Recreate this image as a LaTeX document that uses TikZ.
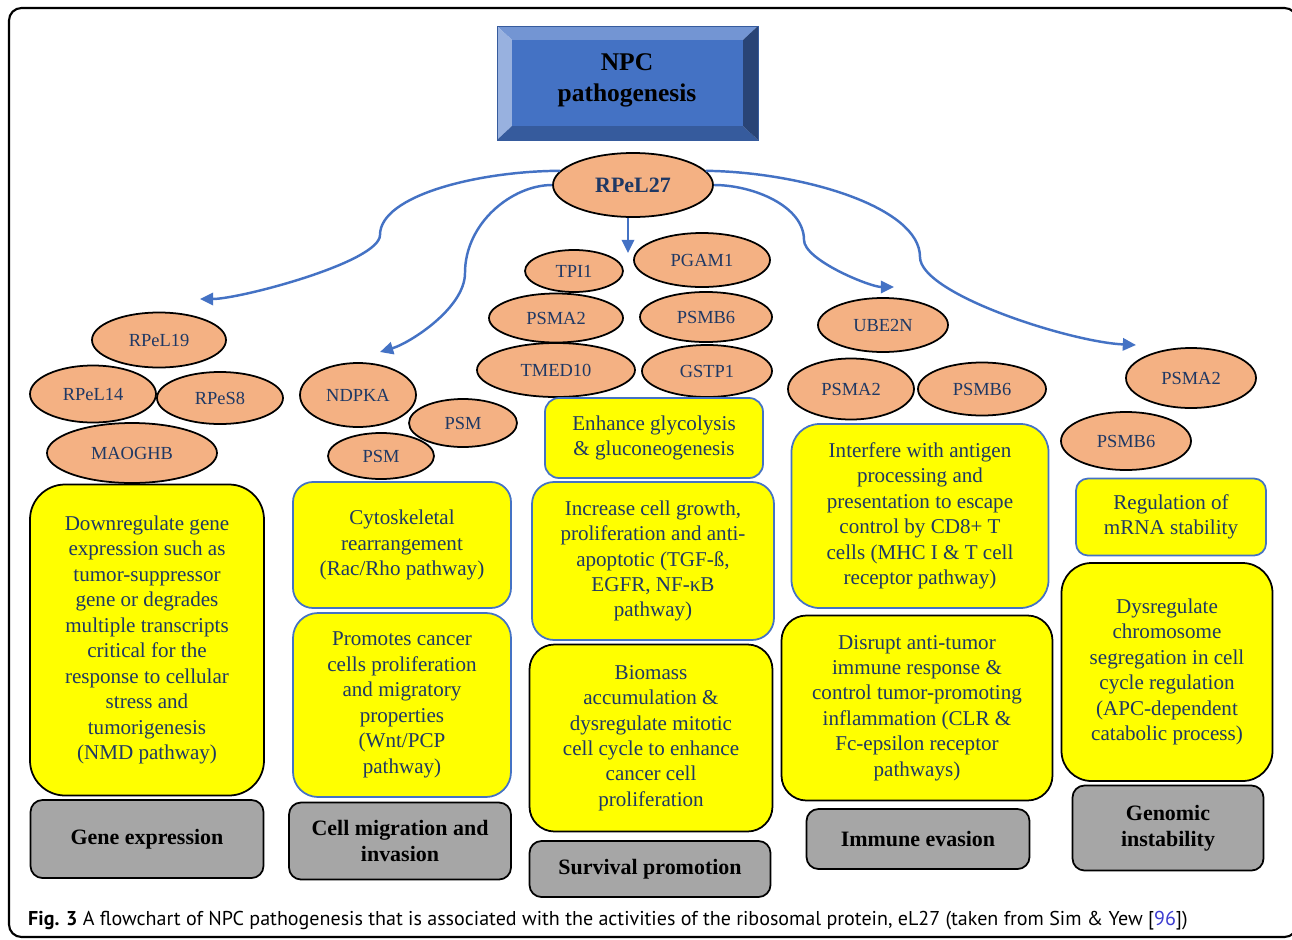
\documentclass[tikz,border=0pt]{standalone}
\usepackage{fontspec}
\setmainfont{Liberation Serif}
\newfontfamily\capfont{PT Sans}
\usetikzlibrary{shapes.geometric,arrows.meta}

\definecolor{salmon}{HTML}{F4B183}
\definecolor{navytext}{HTML}{1F3864}
\definecolor{flowblue}{HTML}{4472C4}
\definecolor{boxgray}{HTML}{A6A6A6}
\definecolor{boxyellow}{HTML}{FFFF00}
\definecolor{citeblue}{HTML}{3C3CD0}

\tikzset{
  dims/.style 2 args={minimum width=#1*0.02cm, minimum height=#2*0.02cm},
  prot/.style={ellipse, draw=black, line width=1pt, fill=salmon, text=navytext,
    inner sep=0pt, font=\fontsize{10.5}{12}\selectfont},
  effect/.style={rectangle, draw=black, line width=1pt, fill=boxyellow, text=navytext,
    rounded corners=#1, inner sep=0pt, align=center, font=\fontsize{12}{14.5}\selectfont},
  effectb/.style={effect=#1, draw=flowblue},
  area/.style={rectangle, draw=black, line width=1pt, fill=boxgray, rounded corners=0.24cm,
    inner sep=0pt, align=center, font=\bfseries\fontsize{12.5}{15}\selectfont},
  flow/.style={draw=flowblue, line width=1.4pt, -{Triangle[length=7.5pt,width=7pt]}}
}

\begin{document}
\begin{tikzpicture}[x=0.02cm, y=-0.02cm]
    \useasboundingbox (0,0) rectangle (1292,940);
    \draw [black, line width=1.2pt, rounded corners=0.25cm] (9,8) rectangle (1297,937);

    % title block
    \fill [flowblue!75!white] (497,26) -- (758,26) -- (743,40) -- (512,40) -- cycle;
    \fill [flowblue!55!white] (497,26) -- (512,40) -- (512,126) -- (497,140) -- cycle;
    \fill [flowblue!80!black] (497,140) -- (512,126) -- (743,126) -- (758,140) -- cycle;
    \fill [flowblue!60!black] (758,26) -- (743,40) -- (743,126) -- (758,140) -- cycle;
    \fill [flowblue] (512,40) rectangle (743,126);
    \draw [flowblue!80!black, line width=0.4pt] (497,26) rectangle (758,140);
    \node [align=center, font=\bfseries\fontsize{14.5}{17.6}\selectfont] (title) at (627,80) {NPC\\pathogenesis};

    \node [prot, dims={160}{64}, font=\bfseries\fontsize{12.5}{14}\selectfont] (rpel27) at (633,185) {RPeL27};

    % gene expression
    \node [prot, dims={134}{55}] (rpel19) at (159,340) {RPeL19};
    \node [prot, dims={126}{57}] (rpel14) at (93,394) {RPeL14};
    \node [prot, dims={126}{52}] (rpes8) at (220,398) {RPeS8};
    \node [prot, dims={170}{60}] (maoghb) at (132,453) {MAOGHB};
    \node [effect=0.7cm, dims={234}{311}] (downreg) at (147,640) {Downregulate gene\\expression such as\\tumor-suppressor\\gene or degrades\\multiple transcripts\\critical for the\\response to cellular\\stress and\\tumorigenesis\\(NMD pathway)};
    \node [area, dims={233}{78}] (geneexp) at (147,839) {Gene expression};

    % migration
    \node [prot, dims={116}{64}] (ndpka) at (358,395) {NDPKA};
    \node [prot, dims={108}{48}] (psmA) at (463,423) {PSM};
    \node [prot, dims={106}{46}] (psmB) at (381,456) {PSM};
    \node [effectb=0.4cm, dims={218}{126}] (cytosk) at (402,545) {Cytoskeletal\\rearrangement\\(Rac/Rho pathway)};
    \node [effectb=0.5cm, dims={218}{184}] (promotes) at (402,705) {Promotes cancer\\cells proliferation\\and migratory\\properties\\(Wnt/PCP\\pathway)};
    \node [area, dims={222}{77}] (migration) at (400,841) {Cell migration and\\invasion};

    % survival
    \node [prot, dims={98}{42}] (tpi1) at (574,271) {TPI1};
    \node [prot, dims={136}{54}] (pgam1) at (702,260) {PGAM1};
    \node [prot, dims={134}{49}] (psma2s) at (556,318) {PSMA2};
    \node [prot, dims={132}{50}] (psmb6s) at (706,317) {PSMB6};
    \node [prot, dims={158}{54}] (tmed10) at (556,370) {TMED10};
    \node [prot, dims={130}{52}] (gstp1) at (707,371) {GSTP1};
    \node [effectb=0.28cm, dims={218}{80}] (glyco) at (654,438) {Enhance glycolysis\\\& gluconeogenesis};
    \node [effectb=0.44cm, dims={242}{158}] (growth) at (653,561) {Increase cell growth,\\proliferation and anti-\\apoptotic (TGF-ß,\\EGFR, NF-κB\\pathway)};
    \node [effect=0.5cm, dims={243}{187}] (biomass) at (651,738) {Biomass\\accumulation \&\\dysregulate mitotic\\cell cycle to enhance\\cancer cell\\proliferation};
    \node [area, dims={241}{56}] (survival) at (650,869) {Survival promotion};

    % immune evasion
    \node [prot, dims={130}{54}] (ube2n) at (883,325) {UBE2N};
    \node [prot, dims={126}{61}] (psma2i) at (851,389) {PSMA2};
    \node [prot, dims={128}{53}] (psmb6i) at (982,389) {PSMB6};
    \node [effectb=0.56cm, dims={257}{184}] (antigen) at (920,516) {Interfere with antigen\\processing and\\presentation to escape\\control by CD8+ T\\cells (MHC I \& T cell\\receptor pathway)};
    \node [effect=0.5cm, dims={271}{185}] (disrupt) at (917,708) {Disrupt anti-tumor\\immune response \&\\control tumor-promoting\\inflammation (CLR \&\\Fc-epsilon receptor\\pathways)};
    \node [area, dims={223}{60}] (immune) at (918,839) {Immune evasion};

    % genomic instability
    \node [prot, dims={130}{60}] (psma2g) at (1191,378) {PSMA2};
    \node [prot, dims={130}{58}] (psmb6g) at (1126,441) {PSMB6};
    \node [effectb=0.24cm, dims={190}{77}] (mrna) at (1171,517) {Regulation of\\mRNA stability};
    \node [effect=0.6cm, dims={211}{218}] (chromo) at (1167,672) {Dysregulate\\chromosome\\segregation in cell\\cycle regulation\\(APC-dependent\\catabolic process)};
    \node [area, dims={191}{85}] (genomic) at (1168,828) {Genomic\\instability};

    % arrows from RPeL27
    \coordinate (tipgene) at (200,299);
    \coordinate (tipmig) at (380,352);
    \coordinate (tipsurv) at (628,253);
    \coordinate (tipimm) at (894,287);
    \coordinate (tipgen) at (1136,345);
    \draw [flow] (rpel27.169) .. controls (480,171) and (380,195) .. (380,235)
                              .. controls (380,262) and (240,299) .. (tipgene);
    \draw [flow] (rpel27.west) .. controls (512,185) and (465,223) .. (465,273)
                               .. controls (465,308) and (410,343) .. (tipmig);
    \draw [flow] (rpel27.south -| tipsurv) -- (tipsurv);
    \draw [flow] (rpel27.east) .. controls (753,185) and (804,206) .. (804,240)
                               .. controls (804,260) and (870,287) .. (tipimm);
    \draw [flow] (rpel27.11) .. controls (802,172) and (920,207) .. (920,257)
                             .. controls (920,294) and (1070,342) .. (tipgen);

    \node [anchor=west, font=\capfont\fontsize{11.4}{13}\selectfont] (caption) at (22,921)
      {\textbf{Fig. 3} A flowchart of NPC pathogenesis that is associated with the activities of the ribosomal protein, eL27 (taken from Sim \& Yew [\textcolor{citeblue}{96}])};
\end{tikzpicture}
\end{document}
